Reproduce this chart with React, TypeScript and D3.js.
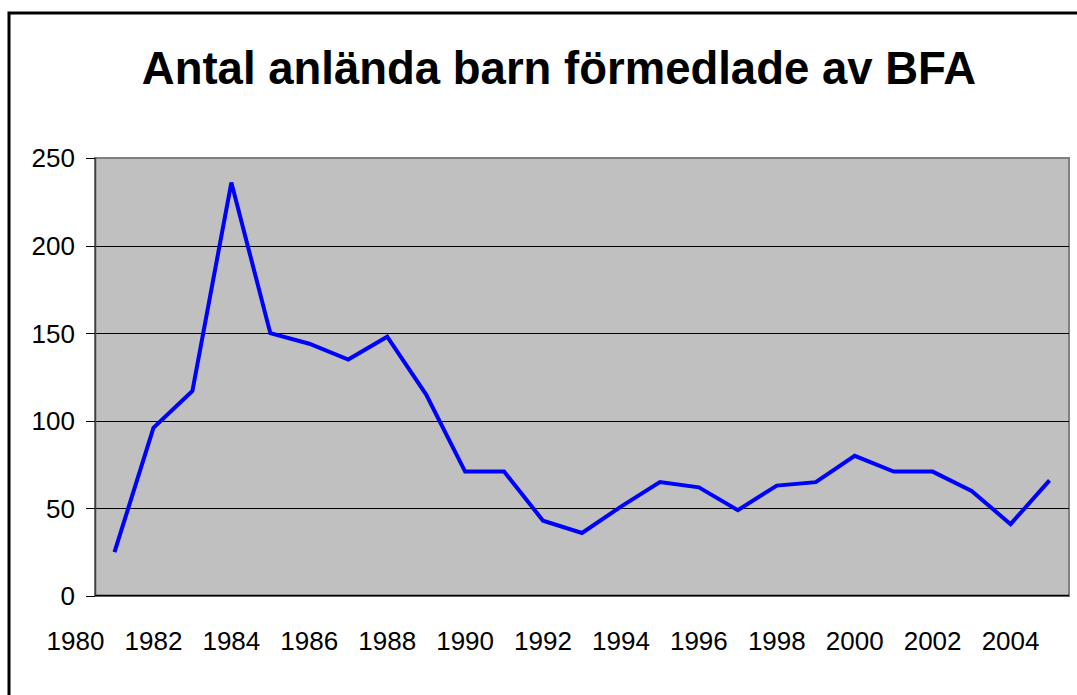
import React from 'react';
import * as d3 from 'd3';

const years = [1981, 1982, 1983, 1984, 1985, 1986, 1987, 1988, 1989, 1990, 1991, 1992, 1993,
  1994, 1995, 1996, 1997, 1998, 1999, 2000, 2001, 2002, 2003, 2004, 2005];
const children = [25, 96, 117, 236, 150, 144, 135, 148, 115, 71, 71, 43, 36,
  51, 65, 62, 49, 63, 65, 80, 71, 71, 60, 41, 66];
const xTickLabels = [1980, 1982, 1984, 1986, 1988, 1990, 1992, 1994, 1996, 1998, 2000, 2002, 2004];
const yTicks = [0, 50, 100, 150, 200, 250];

const W = 1077;
const H = 695;
const plot = { left: 95, right: 1069, top: 158, bottom: 596 };
const font = '"Liberation Sans", Arial, sans-serif';

export default function App() {
  // category axis: each year sits in the middle of its slot
  const x = d3.scaleLinear().domain([1980.5, 2005.5]).range([plot.left, plot.right]);
  const y = d3.scaleLinear().domain([0, 250]).range([plot.bottom, plot.top]);

  const line = d3.line<number>()
    .x((_, i) => x(years[i]))
    .y(d => y(d));

  return (
    <svg width={W} height={H} style={{ position: 'absolute', left: 0, top: 0 }}>
      <rect x={0} y={0} width={W} height={H} fill="#fff" />
      {/* chart area border */}
      <rect x={9} y={13} width={W + 10} height={H + 10} fill="none" stroke="#000" strokeWidth={3} />

      <text x={559} y={84} textAnchor="middle" fontFamily={font} fontWeight="bold" fontSize={45.5}>
        Antal anlända barn förmedlade av BFA
      </text>

      <rect x={plot.left} y={plot.top} width={plot.right - plot.left} height={plot.bottom - plot.top}
        fill="#c0c0c0" stroke="#808080" strokeWidth={2} />

      {yTicks.filter(t => t > 0 && t < 250).map(t => (
        <line key={t} x1={plot.left} x2={plot.right} y1={Math.round(y(t)) + 0.5} y2={Math.round(y(t)) + 0.5}
          stroke="#000" strokeWidth={1} />
      ))}

      {/* value axis */}
      <line x1={plot.left + 0.5} x2={plot.left + 0.5} y1={plot.top} y2={plot.bottom} stroke="#404040" strokeWidth={1.5} />
      <line x1={plot.left} x2={plot.right} y1={plot.bottom - 0.5} y2={plot.bottom - 0.5} stroke="#000" strokeWidth={1.5} />
      {yTicks.map(t => (
        <g key={t}>
          <line x1={plot.left - 9} x2={plot.left} y1={Math.round(y(t)) + 0.5} y2={Math.round(y(t)) + 0.5}
            stroke="#000" strokeWidth={1} />
          <text x={75} y={y(t)} dy="0.36em" textAnchor="end" fontFamily={font} fontSize={26}>{t}</text>
        </g>
      ))}

      {xTickLabels.map(t => (
        <text key={t} x={x(t)} y={650} textAnchor="middle" fontFamily={font} fontSize={26}>{t}</text>
      ))}

      <path d={line(children) ?? ''} fill="none" stroke="#0000ff" strokeWidth={4} strokeLinejoin="miter" />
    </svg>
  );
}
